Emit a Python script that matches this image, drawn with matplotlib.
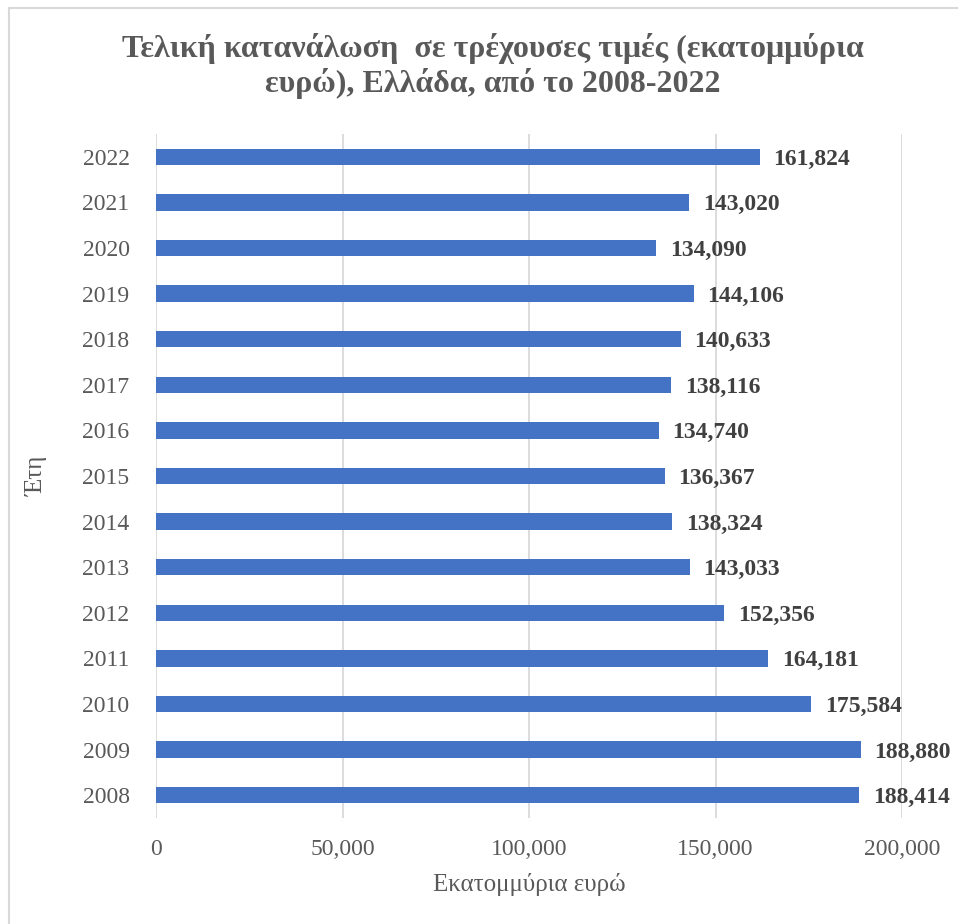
import matplotlib
matplotlib.use("Agg")
import matplotlib.pyplot as plt
from matplotlib.ticker import FuncFormatter
from matplotlib.lines import Line2D

years = ["2008", "2009", "2010", "2011", "2012", "2013", "2014", "2015",
         "2016", "2017", "2018", "2019", "2020", "2021", "2022"]
values = [188414, 188880, 175584, 164181, 152356, 143033, 138324, 136367,
          134740, 138116, 140633, 144106, 134090, 143020, 161824]
xticks = [0, 50000, 100000, 150000, 200000]

title = "Τελική κατανάλωση  σε τρέχουσες τιμές (εκατομμύρια\nευρώ), Ελλάδα, από το 2008-2022"
xlabel = "Εκατομμύρια ευρώ"
ylabel = "Έτη"

plt.rcParams['font.family'] = ['Liberation Serif', 'DejaVu Serif']

W, H = 958, 924
fig = plt.figure(figsize=(W/100, H/100), dpi=100)
ax = fig.add_axes([156/W, 1-818/H, (902-156)/W, (818-134)/H])

ax.barh(range(len(years)), values, height=0.36, color="#4472C4", zorder=3)
ax.set_ylim(-0.5, len(years)-0.5)
ax.set_xlim(0, 200000)
ax.set_xticks(xticks)
ax.xaxis.set_major_formatter(FuncFormatter(lambda v, p: f"{int(v):,}"))
ax.set_yticks(range(len(years)))
ax.set_yticklabels(years)
ax.tick_params(axis='both', length=0, labelsize=17, colors="#595959")
ax.tick_params(axis='x', pad=15)
ax.tick_params(axis='y', pad=19)
ax.grid(axis='x', color="#D9D9D9", linewidth=1.3, zorder=0)
for s in ax.spines.values():
    s.set_visible(False)

for i, v in enumerate(values):
    ax.annotate(f"{v:,}", xy=(v, i), xytext=(10, 0), textcoords='offset points',
                va='center_baseline', ha='left', fontsize=17, fontweight='bold',
                color="#404040")

ax.set_xlabel(xlabel, fontsize=18, color="#595959")
ax.set_ylabel(ylabel, fontsize=18, color="#595959")
ax.xaxis.set_label_coords(0.5, (818-873)/684)
ax.yaxis.set_label_coords((48-156)/746, 0.5)

fig.text(493/W, 1-66/H, title, ha='center', va='center', fontsize=23,
         fontweight='bold', color="#595959", linespacing=1.2)

fig.add_artist(Line2D([9/W, 9/W], [0, 1-8/H], transform=fig.transFigure,
                      color="#D9D9D9", linewidth=1.5))
fig.add_artist(Line2D([9/W, 1], [1-8/H, 1-8/H], transform=fig.transFigure,
                      color="#D9D9D9", linewidth=1.5))

fig.savefig("out.png", dpi=100)
